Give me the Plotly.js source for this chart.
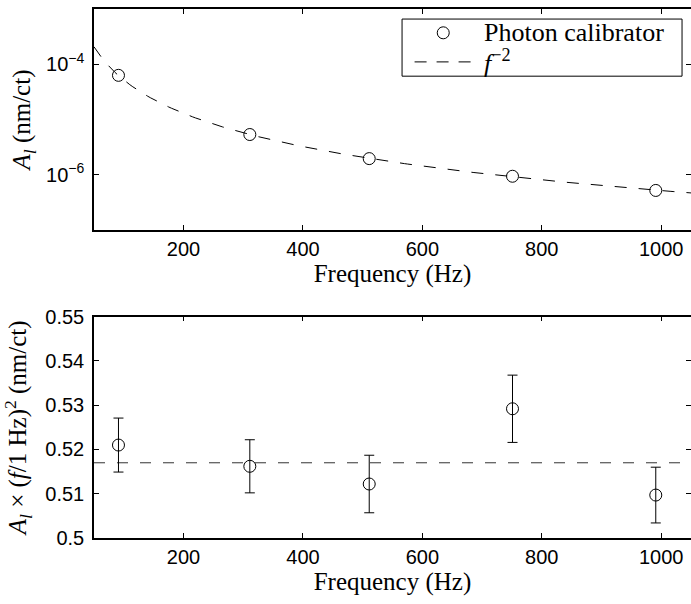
<!DOCTYPE html>
<html>
<head>
<meta charset="utf-8">
<script src="https://cdn.plot.ly/plotly-3.0.1.min.js"></script>
<style>html,body{margin:0;padding:0;background:#fff;}#chart{width:691px;height:604px;}</style>
</head>
<body>
<div id="chart"></div>
<script>
// Data
var frequencyHz = [91, 311, 511, 751, 991];
var amplitudeNmPerCt = [6.3e-5, 5.35e-6, 1.96e-6, 9.4e-7, 5.2e-7];
var normalizedAmplitude = [0.5210, 0.5162, 0.5122, 0.5292, 0.5097];
var normalizedError = [0.0061, 0.0060, 0.0065, 0.0076, 0.0063];
var fitAmplitude = 0.517;          // f^-2 fit level (nm/ct at 1 Hz)
var xTickVals = [200, 400, 600, 800, 1000];
var yTopTickVals = [1e-4, 1e-6];
var yTopTickText = ['10<sup>−4</sup>', '10<sup>−6</sup>'];
var yBotTickVals = [0.5, 0.51, 0.52, 0.53, 0.54, 0.55];
var yBotTickText = ['0.5', '0.51', '0.52', '0.53', '0.54', '0.55'];
var legendLabels = ['Photon calibrator', '<i>f</i><sup>−2</sup>'];
var xRange = [50, 1050];

// f^-2 model curve
var curveF = [], curveA = [];
for (var f = xRange[0]; f <= xRange[1]; f += 5) { curveF.push(f); curveA.push(fitAmplitude / (f * f)); }

var SERIF = 'Liberation Serif';
var SANS = 'Liberation Sans';

var traces = [
  {x: frequencyHz, y: amplitudeNmPerCt, xaxis: 'x', yaxis: 'y', mode: 'markers', name: legendLabels[0], showlegend: false,
   marker: {symbol: 'circle-open', size: 12, color: '#000', line: {width: 1, color: '#000'}}},
  {x: curveF, y: curveA, xaxis: 'x', yaxis: 'y', mode: 'lines', name: legendLabels[1], showlegend: false,
   line: {color: '#000', width: 1, dash: '12px,12px'}},
  {x: xRange, y: [fitAmplitude, fitAmplitude], xaxis: 'x2', yaxis: 'y2', mode: 'lines', showlegend: false,
   line: {color: '#333', width: 1, dash: '11px,12px'}},
  {x: frequencyHz, y: normalizedAmplitude, xaxis: 'x2', yaxis: 'y2', mode: 'markers', showlegend: false,
   marker: {symbol: 'circle-open', size: 12, color: '#000', line: {width: 1, color: '#000'}},
   error_y: {type: 'data', array: normalizedError, visible: true, color: '#000', thickness: 1, width: 5}}
];

function xAxis(anchor) {
  return {
    anchor: anchor, domain: [0, 1], range: xRange, tickmode: 'array', tickvals: xTickVals,
    ticks: 'inside', ticklen: 5, tickwidth: 1, tickcolor: '#000', showline: true, linecolor: '#000', linewidth: 1.5,
    mirror: 'ticks', showgrid: false, zeroline: false,
    tickfont: {family: SANS, size: 20, color: '#000'},
    title: {text: 'Frequency (Hz)', font: {family: SERIF, size: 25, color: '#000'}, standoff: 6}
  };
}

// legend box (paper coordinates of the top plot area)
var lgLeft = 0.516, lgRight = 0.985, lgTop = 0.981, lgBottom = 0.873;
var lgSymX = 0.585, lgTextX = 0.650, lgRow1 = 0.955, lgRow2 = 0.900;

var layout = {
  width: 691, height: 604,
  font: {family: SERIF, size: 25, color: '#000'},
  margin: {l: 94, r: 0, t: 9, b: 66},
  paper_bgcolor: '#fff', plot_bgcolor: '#fff',
  showlegend: false,
  xaxis: xAxis('y'),
  xaxis2: xAxis('y2'),
  yaxis: {
    domain: [0.5822, 1], type: 'log', range: [-7, -3], tickmode: 'array', tickvals: yTopTickVals, ticktext: yTopTickText,
    ticks: 'inside', ticklen: 5, tickwidth: 1, tickcolor: '#000',
    showline: true, linecolor: '#000', linewidth: 1.5, mirror: 'ticks', showgrid: false, zeroline: false,
    tickfont: {family: SANS, size: 20, color: '#000'}, ticklabelstandoff: 4,
    title: {text: '<i>A</i><sub><i>l</i></sub> (nm/ct)', font: {family: SERIF, size: 25, color: '#000'}, standoff: 8}
  },
  yaxis2: {
    domain: [0, 0.4183], range: [0.5, 0.55], tickmode: 'array', tickvals: yBotTickVals, ticktext: yBotTickText,
    ticks: 'inside', ticklen: 5, tickwidth: 1, tickcolor: '#000',
    showline: true, linecolor: '#000', linewidth: 1.5, mirror: 'ticks', showgrid: false, zeroline: false,
    tickfont: {family: SANS, size: 20, color: '#000'}, ticklabelstandoff: 4,
    title: {text: '<i>A</i><sub><i>l</i></sub> × (<i>f</i>/1 Hz)<sup>2</sup> (nm/ct)', font: {family: SERIF, size: 25, color: '#000'}, standoff: 12}
  },
  shapes: [
    {type: 'rect', xref: 'paper', yref: 'paper', x0: lgLeft, x1: lgRight, y0: lgBottom, y1: lgTop,
     fillcolor: '#fff', line: {color: '#000', width: 1}, layer: 'above'},
    {type: 'circle', xref: 'paper', yref: 'paper', xsizemode: 'pixel', ysizemode: 'pixel',
     xanchor: lgSymX, yanchor: lgRow1, x0: -6, x1: 6, y0: -6, y1: 6, line: {color: '#000', width: 1}, layer: 'above'},
    {type: 'line', xref: 'paper', yref: 'paper', x0: lgSymX - 0.048, x1: lgSymX + 0.048, y0: lgRow2, y1: lgRow2,
     line: {color: '#000', width: 1, dash: '12px,10px'}, layer: 'above'}
  ],
  annotations: [
    {xref: 'paper', yref: 'paper', x: lgTextX, y: lgRow1, xanchor: 'left', yanchor: 'middle', showarrow: false,
     text: legendLabels[0], font: {family: SERIF, size: 26, color: '#000'}},
    {xref: 'paper', yref: 'paper', x: lgTextX, y: lgRow2, xanchor: 'left', yanchor: 'middle', showarrow: false,
     text: legendLabels[1], font: {family: SERIF, size: 26, color: '#000'}}
  ]
};

Plotly.newPlot('chart', traces, layout, {displayModeBar: false});
</script>
</body>
</html>
